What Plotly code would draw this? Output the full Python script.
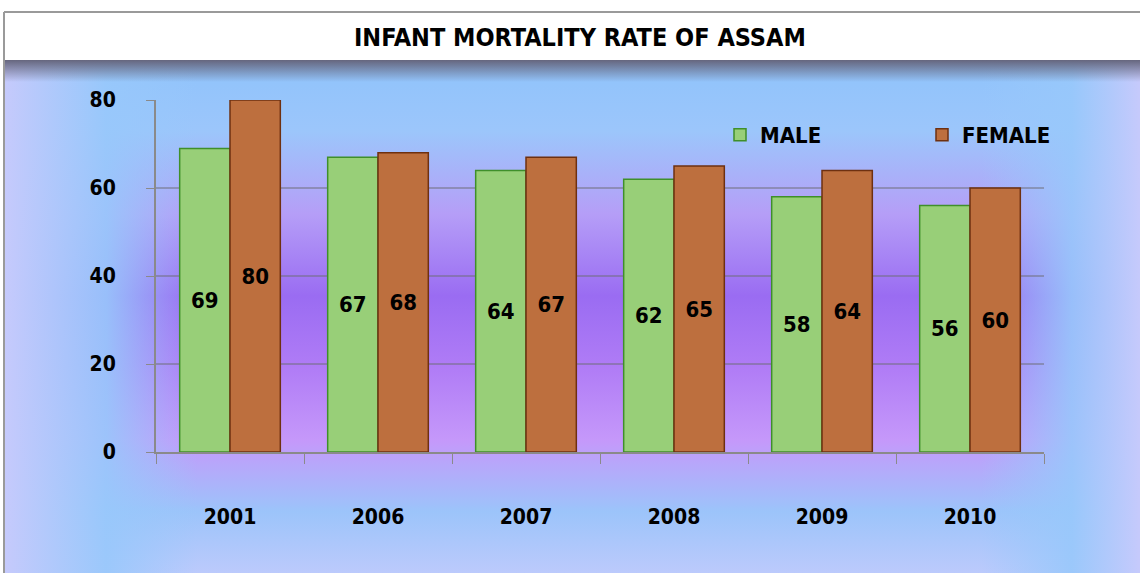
import base64
import plotly.graph_objects as go

years = ["2001", "2006", "2007", "2008", "2009", "2010"]
male = [69, 67, 64, 62, 58, 56]
female = [80, 68, 67, 65, 64, 60]
y_ticks = [0, 20, 40, 60, 80]

W, H = 1140, 573
FONT = "Liberation Sans Narrow, DejaVu Sans Condensed, Arial Narrow, sans-serif"

svg = """<svg xmlns='http://www.w3.org/2000/svg' width='1136' height='513' viewBox='0 0 1136 513' preserveAspectRatio='none'>
<defs>
<linearGradient id='v' x1='0' y1='0' x2='0' y2='1'>
<stop offset='0' stop-color='#8fc3fb'/>
<stop offset='0.14' stop-color='#9cc6fb'/>
<stop offset='0.30' stop-color='#b59ef7'/>
<stop offset='0.46' stop-color='#9a6cf2'/>
<stop offset='0.60' stop-color='#b07cf6'/>
<stop offset='0.74' stop-color='#c598fa'/>
<stop offset='0.88' stop-color='#9cc4fa'/>
<stop offset='1' stop-color='#bccafc'/>
</linearGradient>
<linearGradient id='h' x1='0' y1='0' x2='1' y2='0'>
<stop offset='0' stop-color='#c6cafc' stop-opacity='1'/>
<stop offset='0.09' stop-color='#98c8fb' stop-opacity='0.9'/>
<stop offset='0.17' stop-color='#98c8fb' stop-opacity='0'/>
<stop offset='0.86' stop-color='#98c8fb' stop-opacity='0'/>
<stop offset='0.94' stop-color='#98c8fb' stop-opacity='0.9'/>
<stop offset='1' stop-color='#c6cafc' stop-opacity='1'/>
</linearGradient>
<linearGradient id='s' x1='0' y1='0' x2='0' y2='1'>
<stop offset='0' stop-color='#66667e' stop-opacity='1'/>
<stop offset='1' stop-color='#66667e' stop-opacity='0'/>
</linearGradient>
</defs>
<rect width='1136' height='513' fill='url(#v)'/>
<rect width='1136' height='513' fill='url(#h)'/>
<rect width='1136' height='22' fill='url(#s)'/>
</svg>"""
bg_src = "data:image/svg+xml;base64," + base64.b64encode(svg.encode()).decode()

fig = go.Figure()
fig.add_trace(go.Bar(
    x=years, y=male, name="MALE", text=male,
    marker=dict(color="#98cf78", line=dict(color="#3f8f2a", width=1.5)),
))
fig.add_trace(go.Bar(
    x=years, y=female, name="FEMALE", text=female,
    marker=dict(color="#bd6f3e", line=dict(color="#6e3010", width=1.5)),
))
fig.update_traces(
    textposition="inside", insidetextanchor="middle", textangle=0,
    textfont=dict(family=FONT, size=22, color="black", weight="bold"),
    cliponaxis=False,
)

fig.update_layout(
    width=W, height=H,
    margin=dict(l=0, r=0, t=0, b=0, autoexpand=False),
    paper_bgcolor="white",
    plot_bgcolor="rgba(0,0,0,0)",
    barmode="group", bargap=0.32, bargroupgap=0.0,
    showlegend=True,
    legend=dict(
        orientation="h", x=720 / W, y=1 - 135 / H, xanchor="left", yanchor="middle",
        bgcolor="rgba(0,0,0,0)", entrywidth=157, entrywidthmode="pixels",
        font=dict(family=FONT, size=22, color="black", weight="bold"),
        traceorder="normal",
    ),
    xaxis=dict(
        domain=[156 / W, 1044 / W],
        showgrid=False, showline=True, linecolor="#8a8a8a", linewidth=2,
        ticks="outside", tickson="boundaries", ticklen=10, tickcolor="#8a8a8a",
        ticklabelstandoff=45,
        tickfont=dict(family=FONT, size=21, color="black", weight="bold"),
    ),
    yaxis=dict(
        domain=[(H - 452) / H, (H - 100) / H],
        range=[0, 80], tickvals=y_ticks,
        showgrid=True, gridcolor="rgba(110,110,120,0.5)", gridwidth=1.5,
        showline=True, linecolor="#8a8a8a", linewidth=2,
        ticks="outside", ticklen=8, tickcolor="#8a8a8a",
        ticklabelstandoff=26,
        zeroline=False,
        tickfont=dict(family=FONT, size=21, color="black", weight="bold"),
    ),
    images=[dict(
        source=bg_src, xref="paper", yref="paper",
        x=4 / W, y=1 - 60 / H, sizex=1 - 4 / W, sizey=1 - 60 / H,
        xanchor="left", yanchor="top", sizing="stretch", layer="below",
    )],
    shapes=[
        dict(type="line", xref="paper", yref="paper", x0=4 / W, x1=1, y0=1 - 12 / H, y1=1 - 12 / H,
             line=dict(color="#9a9a9a", width=2)),
        dict(type="line", xref="paper", yref="paper", x0=4 / W, x1=4 / W, y0=0, y1=1 - 12 / H,
             line=dict(color="#9a9a9a", width=2)),
    ],
    annotations=[dict(
        text="INFANT MORTALITY RATE OF ASSAM", xref="paper", yref="paper",
        x=580 / W, y=1 - 37 / H, xanchor="center", yanchor="middle", showarrow=False,
        font=dict(family=FONT, size=25, color="black", weight="bold"),
    )],
)

fig.write_html(
    "out.html",
    config={"displayModeBar": False},
    post_script="document.body.style.margin='0';document.body.style.overflow='hidden';",
)
